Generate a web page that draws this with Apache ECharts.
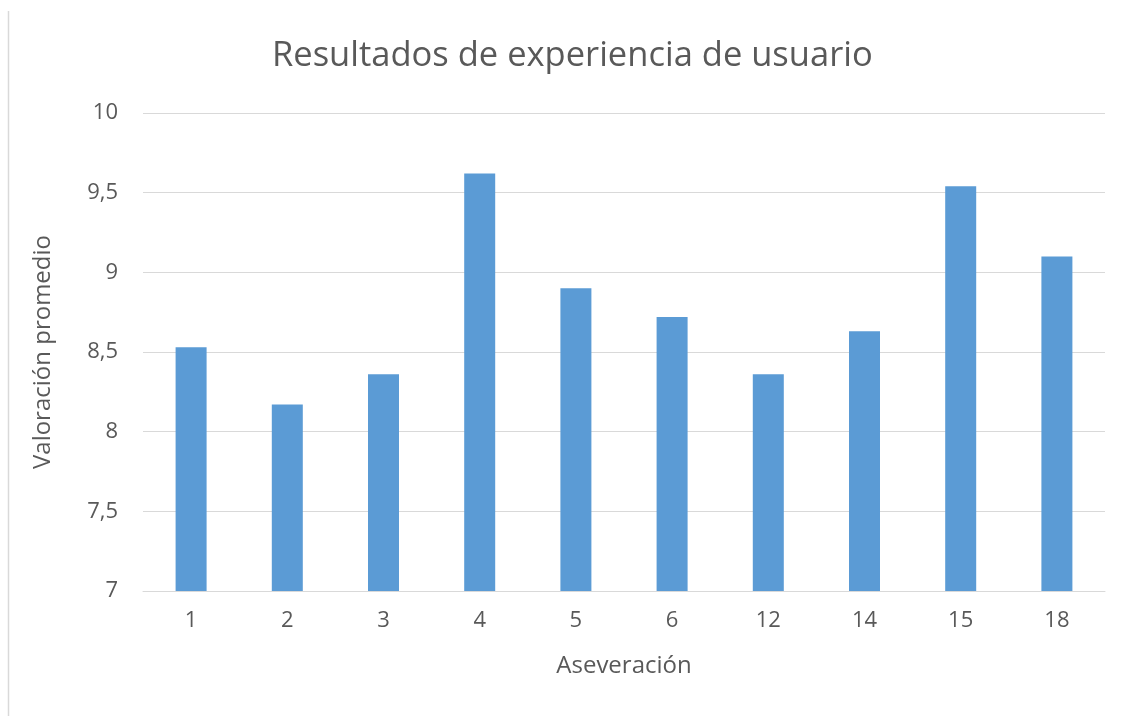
<!DOCTYPE html>
<html>
<head>
<meta charset="utf-8">
<script src="https://cdn.jsdelivr.net/npm/echarts@6/dist/echarts.min.js"></script>
<style>html,body{margin:0;padding:0;background:#fff;}#c{width:1128px;height:716px;}</style>
</head>
<body>
<div id="c"></div>
<script>
const categories = ['1','2','3','4','5','6','12','14','15','18'];
const values = [8.53, 8.17, 8.36, 9.62, 8.90, 8.72, 8.36, 8.63, 9.54, 9.10];
const titleText = 'Resultados de experiencia de usuario';
const xName = 'Aseveración';
const yName = 'Valoración promedio';

const chart = echarts.init(document.getElementById('c'), null, {renderer: 'canvas'});
const font = '"Open Sans", "Noto Sans", sans-serif';
chart.setOption({
  animation: false,
  backgroundColor: '#fff',
  title: {
    text: titleText, left: 267, top: 34,
    textStyle: {fontFamily: font, fontSize: 34.5, fontWeight: 'normal', color: '#595959'}
  },
  grid: {left: 143, right: 23, top: 113, bottom: 125, containLabel: false},
  xAxis: {
    type: 'category', data: categories,
    name: xName, nameLocation: 'middle', nameGap: 63,
    nameTextStyle: {fontFamily: font, fontSize: 24, color: '#595959'},
    axisLine: {show: true, lineStyle: {color: '#D9D9D9', width: 1}},
    axisTick: {show: false},
    axisLabel: {fontFamily: font, fontSize: 22, color: '#595959', margin: 19}
  },
  yAxis: {
    type: 'value', min: 7, max: 10, interval: 0.5,
    name: yName, nameLocation: 'middle', nameGap: 88,
    nameTextStyle: {fontFamily: font, fontSize: 24, color: '#595959'},
    axisLine: {show: false}, axisTick: {show: false},
    axisLabel: {fontFamily: font, fontSize: 22, color: '#595959', margin: 25,
      formatter: v => String(v).replace('.', ',')},
    splitLine: {lineStyle: {color: '#D9D9D9', width: 1}}
  },
  series: [{
    type: 'bar', data: values, barWidth: 31,
    itemStyle: {color: '#5B9BD5'}
  }],
  graphic: [{
    type: 'line', shape: {x1: 8.5, y1: 11, x2: 8.5, y2: 716},
    style: {stroke: '#D9D9D9', lineWidth: 1.5}
  }]
});
</script>
</body>
</html>
